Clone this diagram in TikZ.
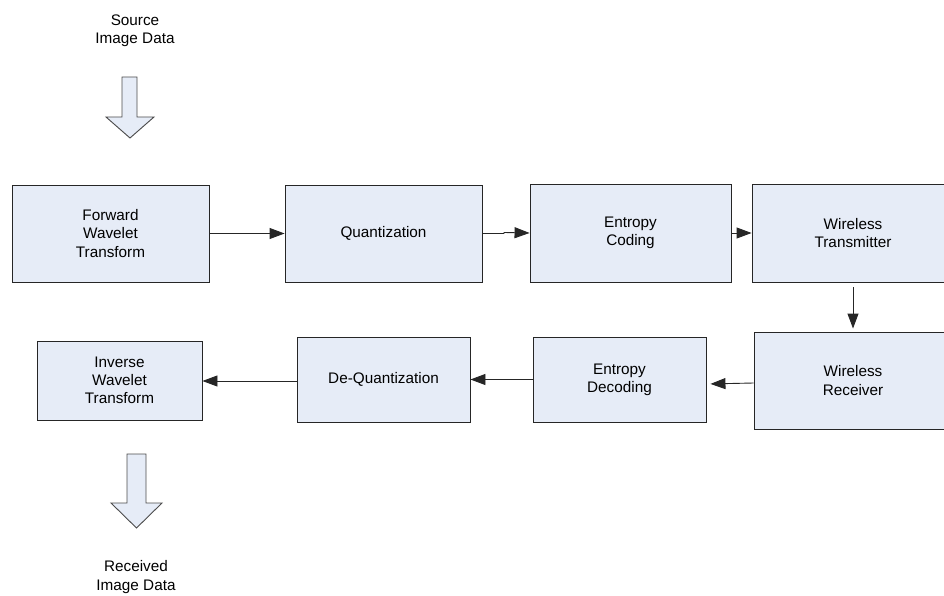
\documentclass[tikz,border=0pt]{standalone}
\usepackage{fontspec}
\setmainfont{Liberation Sans}
\usetikzlibrary{arrows.meta,positioning}

\definecolor{boxfill}{RGB}{230,236,247}

\tikzset{
  stage/.style={draw=black!85,fill=boxfill,align=center,inner sep=0pt,
    font=\fontsize{15.3}{18.3}\selectfont},
  caption/.style={align=center,inner sep=0pt,font=\fontsize{15.3}{18.3}\selectfont},
  flow/.style={draw=black!85,-{Triangle[length=15pt,width=11pt]}},
  bigarrow/.style={draw=black!70,fill=boxfill}
}

\begin{document}
\begin{tikzpicture}[x=1pt,y=-1pt,line width=0.9pt]
  \useasboundingbox (0,0) rectangle (944,596);

  % top row
  \node[stage,minimum width=197pt,minimum height=97pt] (fwt) at (110.5,233.5) {Forward\\Wavelet\\Transform};
  \node[stage,minimum width=197pt,minimum height=97pt] (quant) at (383.5,233.5) {Quantization};
  \node[stage,minimum width=201pt,minimum height=98pt] (enc) at (630.5,233) {Entropy\\Coding};
  \node[stage,minimum width=202pt,minimum height=98pt] (tx) at (853,233) {Wireless\\Transmitter};

  % bottom row
  \node[stage,minimum width=198pt,minimum height=97pt] (rx) at (853,380.5) {Wireless\\Receiver};
  \node[stage,minimum width=173pt,minimum height=85pt] (dec) at (619.5,379.5) {Entropy\\Decoding};
  \node[stage,minimum width=173pt,minimum height=85pt] (dequant) at (383.5,379.5) {De-Quantization};
  \node[stage,minimum width=165pt,minimum height=79pt] (iwt) at (119.5,380.5) {Inverse\\Wavelet\\Transform};

  % input and output
  \node[caption] (src) at (135,31) {Source\\Image Data};
  \node[caption] (rcv) at (136,577) {Received\\Image Data};
  \filldraw[bigarrow] (122,77) -- (137,77) -- (137,117) -- (154,117) -- (130,138)
    -- (106,117) -- (122,117) -- cycle;
  \filldraw[bigarrow] (127,454) -- (146,454) -- (146,503) -- (162,503) -- (136.5,528)
    -- (111,503) -- (127,503) -- cycle;

  % connectors
  \draw[flow] (fwt) -- (quant);
  \coordinate (jog) at (504,233.5);
  \draw[flow] (quant.east |- jog) -- (jog) -- ++(0,-1) -- (enc.west);
  \draw[flow] (enc) -- (tx);
  \draw[flow,shorten <=5pt,shorten >=3pt] (tx) -- (rx);
  \draw[flow,shorten >=4pt] (rx.west |- 0,383) -- (dec.east |- 0,384);
  \draw[flow] (dec) -- (dequant);
  \draw[flow] (dequant.west |- 0,381) -- (iwt.east |- 0,381);
\end{tikzpicture}
\end{document}
